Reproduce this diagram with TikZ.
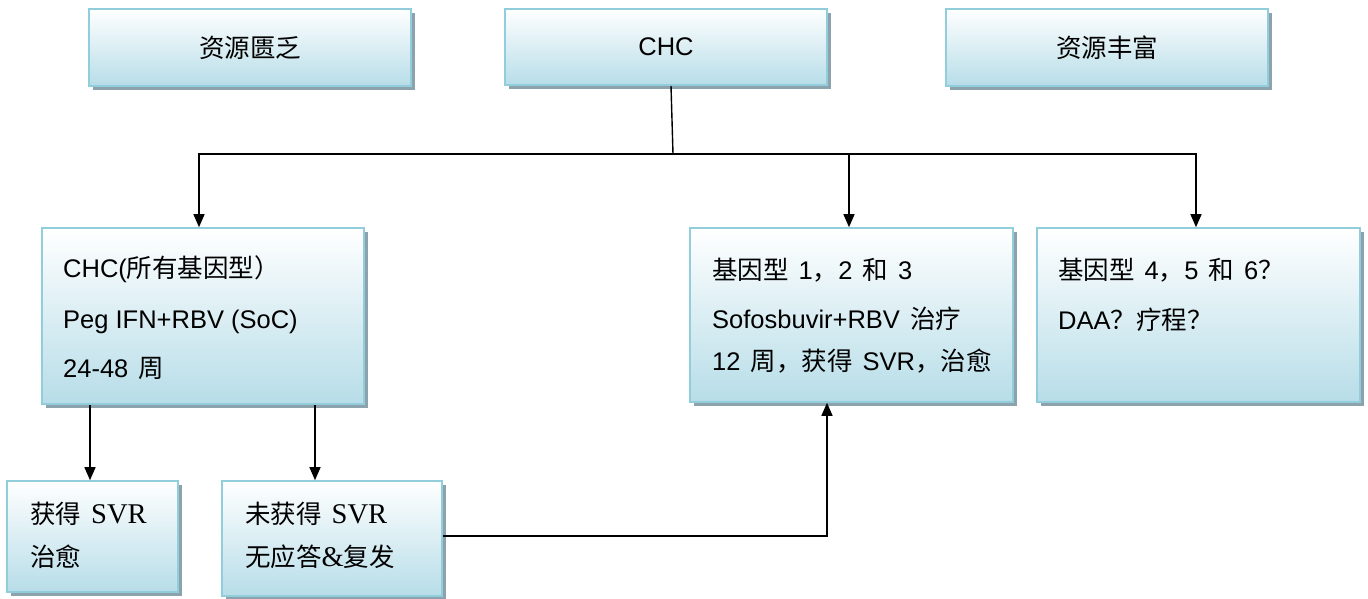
\documentclass[tikz,border=0pt]{standalone}
\usepackage{fontspec}
\setmainfont{Liberation Sans}
\newfontfamily\cjk{Noto Sans CJK SC}
\newfontfamily\serifl{Liberation Serif}[Scale=1.12]
\newcommand\zh[1]{{\cjk #1}}
\newcommand\gapx{\hspace{10pt}}
\usetikzlibrary{arrows.meta,shadows}
\definecolor{bordc}{RGB}{146,205,220}
\definecolor{boxb}{RGB}{183,221,232}
\definecolor{shadc}{RGB}{140,163,173}
\begin{document}
\begin{tikzpicture}[x=1pt,y=-1pt,
  box/.style={rectangle,draw=bordc,line width=1.6pt,top color=white,bottom color=boxb,
    drop shadow={shadow xshift=4pt,shadow yshift=-4pt,fill=shadc,opacity=1},
    inner sep=0pt,font=\fontsize{25.5}{30}\selectfont},
  txt/.style={anchor=west,inner sep=0pt,text height=18pt,text depth=0pt,font=\fontsize{25.5}{30}\selectfont},
  conn/.style={line width=1.4pt,black},
  arr/.style={conn,-{Triangle[length=13pt,width=11pt]}}]
\useasboundingbox (0,0) rectangle (1368,599);
% top boxes
\node[box,minimum width=322pt,minimum height=77pt] (poor) at (250,47.5) {\zh{资源匮乏}};
\node[box,minimum width=322pt,minimum height=76pt] (chc) at (666,47) {CHC};
\node[box,minimum width=322pt,minimum height=77pt] (rich) at (1107,47.5) {\zh{资源丰富}};
% middle row
\node[box,minimum width=322pt,minimum height=176pt] (left) at (203,316) {};
\node[box,minimum width=323pt,minimum height=174pt] (mid) at (851.5,315) {};
\node[box,minimum width=323pt,minimum height=174pt] (right) at (1198.5,315) {};
% bottom row
\node[box,minimum width=171pt,minimum height=111pt] (bl) at (92.5,536.5) {};
\node[box,minimum width=220pt,minimum height=115pt] (bm) at (332,538.5) {};
% texts
\node[txt] (l1) at (63,268) {CHC(\zh{所有基因型）}};
\node[txt] (l2) at (63,319) {Peg IFN+RBV (SoC)};
\node[txt] (l3) at (63,368) {24-48\gapx\zh{周}};
\node[txt] (m1) at (712,270) {\zh{基因型}\gapx 1\zh{，}2\gapx\zh{和}\gapx 3};
\node[txt] (m2) at (712,319) {Sofosbuvir+RBV\gapx\zh{治疗}};
\node[txt] (m3) at (712,361) {12\gapx\zh{周，获得}\gapx SVR\zh{，治愈}};
\node[txt] (r1) at (1058,270) {\zh{基因型}\gapx 4\zh{，}5\gapx\zh{和}\gapx 6\zh{？}};
\node[txt] (r2) at (1058,320) {DAA\zh{？疗程？}};
\node[txt] (b1) at (30,514) {\zh{获得}\gapx{\serifl SVR}};
\node[txt] (b2) at (30,557) {\zh{治愈}};
\node[txt] (c1) at (245,514) {\zh{未获得}\gapx{\serifl SVR}};
\node[txt] (c2) at (245,557) {\zh{无应答}{\serifl\&}\zh{复发}};
% connectors
\coordinate (j) at (673,154);
\draw[conn] ([xshift=5pt]chc.south) -- (j);
\draw[arr] (j) -| ([xshift=-4pt]left.north);
\draw[arr] (j) -| ([xshift=-2.5pt]mid.north);
\draw[arr] (j) -| ([xshift=-2.5pt]right.north);
\draw[arr] ([xshift=-2.5pt]bl.north |- left.south) -- ([xshift=-2.5pt]bl.north);
\draw[arr] ([xshift=-17pt]bm.north |- left.south) -- ([xshift=-17pt]bm.north);
\draw[arr] ([yshift=2.5pt]bm.east) -| ([xshift=-24.5pt]mid.south);
\end{tikzpicture}
\end{document}
